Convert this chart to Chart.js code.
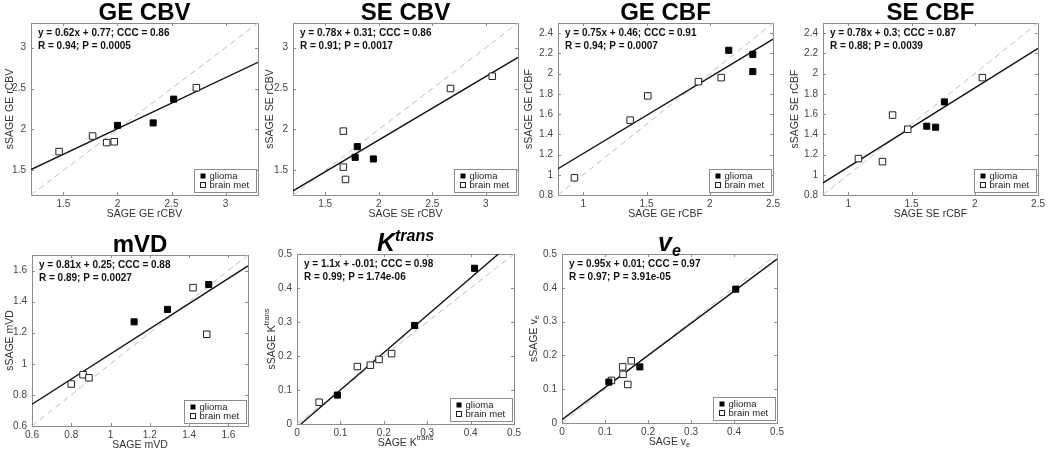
<!DOCTYPE html>
<html>
<head>
<meta charset="utf-8">
<script src="https://cdn.jsdelivr.net/npm/chart.js@4.4.1/dist/chart.umd.min.js"></script>
<style>
  html, body { margin: 0; padding: 0; background: #fff; }
  body { width: 1050px; height: 452px; position: relative; overflow: hidden; }
  canvas { position: absolute; }
</style>
</head>
<body>
<script>
// ---- data: [SAGE, sSAGE] pairs ----
const geCbvGlioma = [[2.0, 2.05], [2.33, 2.08], [2.52, 2.37]];
const geCbvMet = [[1.46, 1.73], [1.77, 1.92], [1.90, 1.84], [1.97, 1.85], [2.73, 2.51]];
const geCbvFit = [[1.2, 1.51], [3.3, 2.82]];
const geCbvStats = ['y = 0.62x + 0.77; CCC = 0.86', 'R = 0.94; P = 0.0005'];

const seCbvGlioma = [[1.78, 1.66], [1.80, 1.79], [1.95, 1.64]];
const seCbvMet = [[1.67, 1.98], [1.67, 1.54], [1.69, 1.39], [2.67, 2.50], [3.06, 2.65]];
const seCbvFit = [[1.2, 1.25], [3.3, 2.88]];
const seCbvStats = ['y = 0.78x + 0.31; CCC = 0.86', 'R = 0.91; P = 0.0017'];

const geCbfGlioma = [[2.15, 2.23], [2.34, 2.19], [2.34, 2.02]];
const geCbfMet = [[0.93, 0.97], [1.37, 1.54], [1.51, 1.78], [1.91, 1.92], [2.09, 1.96]];
const geCbfFit = [[0.8, 1.06], [2.5, 2.34]];
const geCbfStats = ['y = 0.75x + 0.46; CCC = 0.91', 'R = 0.94; P = 0.0007'];

const seCbfGlioma = [[1.62, 1.48], [1.69, 1.47], [1.76, 1.72]];
const seCbfMet = [[1.08, 1.16], [1.27, 1.13], [1.35, 1.59], [1.47, 1.45], [2.06, 1.96]];
const seCbfFit = [[0.8, 0.92], [2.5, 2.25]];
const seCbfStats = ['y = 0.78x + 0.3; CCC = 0.87', 'R = 0.88; P = 0.0039'];

const mvdGlioma = [[1.12, 1.27], [1.29, 1.35], [1.50, 1.51]];
const mvdMet = [[0.80, 0.87], [0.86, 0.93], [0.89, 0.91], [1.42, 1.49], [1.49, 1.19]];
const mvdFit = [[0.6, 0.74], [1.7, 1.63]];
const mvdStats = ['y = 0.81x + 0.25; CCC = 0.88', 'R = 0.89; P = 0.0027'];

const ktransGlioma = [[0.093, 0.085], [0.271, 0.29], [0.409, 0.458]];
const ktransMet = [[0.051, 0.064], [0.139, 0.169], [0.169, 0.173], [0.189, 0.19], [0.218, 0.207]];
const ktransFit = [[0.009, 0.0], [0.464, 0.5]];
const ktransStats = ['y = 1.1x + -0.01; CCC = 0.98', 'R = 0.99; P = 1.74e-06'];

const veGlioma = [[0.109, 0.121], [0.181, 0.166], [0.404, 0.396]];
const veMet = [[0.115, 0.126], [0.141, 0.166], [0.142, 0.144], [0.161, 0.184], [0.153, 0.114]];
const veFit = [[0.0, 0.01], [0.5, 0.485]];
const veStats = ['y = 0.95x + 0.01; CCC = 0.97', 'R = 0.97; P = 3.91e-05'];

// tick labels
const cbvTicks = [1.5, 2, 2.5, 3];
const cbfXTicks = [1, 1.5, 2, 2.5];
const cbfYTicks = [0.8, 1, 1.2, 1.4, 1.6, 1.8, 2, 2.2, 2.4];
const mvdTicks = [0.6, 0.8, 1, 1.2, 1.4, 1.6];
const permTicks = [0, 0.1, 0.2, 0.3, 0.4, 0.5];

const legendLabels = ['glioma', 'brain met'];

const FONT = 'Helvetica, "Liberation Sans", Arial, sans-serif';

// layout: box = [left, top, right, bottom] of each plot area on the page
const panels = [
  { box: [31, 23, 258, 195], range: [1.2, 3.3], xTicks: cbvTicks, yTicks: cbvTicks,
    glioma: geCbvGlioma, met: geCbvMet, fit: geCbvFit, stats: geCbvStats, yOff: 21,
    title: [['GE CBV', 'bold 24px', 0]], xLabel: [['SAGE GE rCBV', '10.5px', 0]], yLabel: [['sSAGE GE rCBV', '10.5px', 0]] },
  { box: [293, 23, 518, 195], range: [1.2, 3.3], xTicks: cbvTicks, yTicks: cbvTicks,
    glioma: seCbvGlioma, met: seCbvMet, fit: seCbvFit, stats: seCbvStats, yOff: 23,
    title: [['SE CBV', 'bold 24px', 0]], xLabel: [['SAGE SE rCBV', '10.5px', 0]], yLabel: [['sSAGE SE rCBV', '10.5px', 0]] },
  { box: [558, 23, 777, 195], range: [0.8, 2.5], xTicks: cbfXTicks, yTicks: cbfYTicks,
    glioma: geCbfGlioma, met: geCbfMet, fit: geCbfFit, stats: geCbfStats, yOff: 29,
    title: [['GE CBF', 'bold 24px', 0]], xLabel: [['SAGE GE rCBF', '10.5px', 0]], yLabel: [['sSAGE GE rCBF', '10.5px', 0]] },
  { box: [823, 23, 1042, 195], range: [0.8, 2.5], xTicks: cbfXTicks, yTicks: cbfYTicks,
    glioma: seCbfGlioma, met: seCbfMet, fit: seCbfFit, stats: seCbfStats, yOff: 28,
    title: [['SE CBF', 'bold 24px', 0]], xLabel: [['SAGE SE rCBF', '10.5px', 0]], yLabel: [['sSAGE SE rCBF', '10.5px', 0]] },
  { box: [32, 255, 248, 426], range: [0.6, 1.7], xTicks: mvdTicks, yTicks: mvdTicks,
    glioma: mvdGlioma, met: mvdMet, fit: mvdFit, stats: mvdStats, yOff: 22,
    title: [['mVD', 'bold 24px', 0]], xLabel: [['SAGE mVD', '10.5px', 0]], yLabel: [['sSAGE mVD', '10.5px', 0]] },
  { box: [297, 254, 518, 424], range: [0, 0.5], xTicks: permTicks, yTicks: permTicks,
    glioma: ktransGlioma, met: ktransMet, fit: ktransFit, stats: ktransStats, yOff: 25,
    title: [['K', 'italic bold 25px', 0], ['trans', 'italic bold 16px', -10]],
    xLabel: [['SAGE K', '10.5px', 0], ['trans', '7.5px', -5]], yLabel: [['sSAGE K', '10.5px', 0], ['trans', '7.5px', -5]] },
  { box: [562, 254, 781, 423], range: [0, 0.5], xTicks: permTicks, yTicks: permTicks,
    glioma: veGlioma, met: veMet, fit: veFit, stats: veStats, yOff: 28,
    title: [['v', 'italic bold 25px', 0], ['e', 'italic bold 16px', 5]],
    xLabel: [['SAGE v', '10.5px', 0], ['e', '7.5px', 3]], yLabel: [['sSAGE v', '10.5px', 0], ['e', '7.5px', 3]] }
];

function toXY(pairs) {
  return pairs.map(p => ({ x: p[0], y: p[1] }));
}

// draw a row of text runs [text, font, dy] centred on (x, y)
function drawRuns(ctx, runs, x, y) {
  let total = 0;
  runs.forEach(r => { ctx.font = r[1] + ' ' + FONT; total += ctx.measureText(r[0]).width; });
  let cx = x - total / 2;
  ctx.textAlign = 'left';
  runs.forEach(r => {
    ctx.font = r[1] + ' ' + FONT;
    ctx.fillText(r[0], cx, y + r[2]);
    cx += ctx.measureText(r[0]).width;
  });
}

const decor = {
  id: 'decor',
  beforeDatasetsDraw(chart, args, p) {
    const { ctx, chartArea: a, scales } = chart;
    ctx.save();
    ctx.strokeStyle = '#8c8c8c';
    ctx.lineWidth = 1;
    ctx.beginPath();
    // inward tick marks, MATLAB style
    p.xTicks.forEach(v => {
      const px = Math.round(scales.x.getPixelForValue(v)) + 0.5;
      ctx.moveTo(px, a.bottom); ctx.lineTo(px, a.bottom - 3);
      ctx.moveTo(px, a.top); ctx.lineTo(px, a.top + 3);
    });
    p.yTicks.forEach(v => {
      const py = Math.round(scales.y.getPixelForValue(v)) + 0.5;
      ctx.moveTo(a.left, py); ctx.lineTo(a.left + 3, py);
      ctx.moveTo(a.right, py); ctx.lineTo(a.right - 3, py);
    });
    ctx.stroke();
    ctx.strokeRect(Math.round(a.left) + 0.5, Math.round(a.top) + 0.5,
      Math.round(a.right - a.left), Math.round(a.bottom - a.top));
    ctx.restore();
  },
  afterDatasetsDraw(chart, args, p) {
    const { ctx, chartArea: a } = chart;
    ctx.save();
    // title
    ctx.fillStyle = '#000';
    ctx.textBaseline = 'alphabetic';
    drawRuns(ctx, p.title, (a.left + a.right) / 2, a.top - 3);
    // axis labels
    ctx.fillStyle = '#333';
    ctx.textBaseline = 'middle';
    drawRuns(ctx, p.xLabel, (a.left + a.right) / 2, a.bottom + 19);
    ctx.save();
    ctx.translate(a.left - p.yOff, (a.top + a.bottom) / 2);
    ctx.rotate(-Math.PI / 2);
    drawRuns(ctx, p.yLabel, 0, 0);
    ctx.restore();
    // regression stats
    ctx.fillStyle = '#111';
    ctx.textBaseline = 'alphabetic';
    ctx.textAlign = 'left';
    ctx.font = 'bold 10px ' + FONT;
    ctx.fillText(p.stats[0], a.left + 7, a.top + 13);
    ctx.fillText(p.stats[1], a.left + 7, a.top + 26);
    // legend box
    const w = 62, h = 23;
    const lx = Math.round(a.right - 2 - w) + 0.5, ly = Math.round(a.bottom - 3 - h) + 0.5;
    ctx.fillStyle = '#fff';
    ctx.fillRect(lx, ly, w, h);
    ctx.strokeStyle = '#8c8c8c';
    ctx.lineWidth = 1;
    ctx.strokeRect(lx, ly, w, h);
    ctx.fillStyle = '#000';
    ctx.fillRect(lx + 6, ly + 4, 5, 5);
    ctx.strokeStyle = '#222';
    ctx.strokeRect(lx + 6, ly + 13, 5, 5);
    ctx.fillStyle = '#222';
    ctx.font = '9.5px ' + FONT;
    ctx.textBaseline = 'middle';
    ctx.fillText(legendLabels[0], lx + 15, ly + 6.5);
    ctx.fillText(legendLabels[1], lx + 15, ly + 16);
    ctx.restore();
  }
};

panels.forEach(p => {
  const [L, T, R, B] = p.box;
  const ml = Math.min(45, L);
  const canvas = document.createElement('canvas');
  const w = R - L + ml + 6, h = B - T + 30 + 28;
  canvas.width = w;
  canvas.height = h;
  canvas.style.left = (L - ml) + 'px';
  canvas.style.top = (T - 30) + 'px';
  canvas.style.width = w + 'px';
  canvas.style.height = h + 'px';
  document.body.appendChild(canvas);

  const tickStyle = { font: { family: FONT, size: 10 }, color: '#444', callback: v => String(v) };

  new Chart(canvas.getContext('2d'), {
    type: 'scatter',
    data: {
      datasets: [
        {
          label: legendLabels[0],
          data: toXY(p.glioma),
          pointStyle: 'rect',
          pointRadius: 4.3,
          backgroundColor: '#000',
          borderColor: '#000',
          borderWidth: 1
        },
        {
          label: legendLabels[1],
          data: toXY(p.met),
          pointStyle: 'rect',
          pointRadius: 4.6,
          backgroundColor: '#fff',
          borderColor: '#222',
          borderWidth: 1
        },
        {
          label: 'fit',
          data: toXY(p.fit),
          showLine: true,
          pointRadius: 0,
          borderColor: '#111',
          borderWidth: 1.4
        },
        {
          label: 'identity',
          data: toXY([[p.range[0], p.range[0]], [p.range[1], p.range[1]]]),
          showLine: true,
          pointRadius: 0,
          borderColor: '#bdbdbd',
          borderWidth: 1,
          borderDash: [6, 4]
        }
      ]
    },
    options: {
      responsive: false,
      animation: false,
      devicePixelRatio: 1,
      layout: { padding: { left: 0, top: 30, right: 6, bottom: 0 } },
      plugins: {
        legend: { display: false },
        tooltip: { enabled: false },
        decor: p
      },
      scales: {
        x: {
          type: 'linear',
          min: p.range[0],
          max: p.range[1],
          grid: { display: false, drawTicks: false },
          border: { display: false },
          ticks: Object.assign({ padding: 3, maxRotation: 0, autoSkip: false }, tickStyle),
          afterBuildTicks: s => { s.ticks = p.xTicks.map(v => ({ value: v })); },
          afterFit: s => { s.height = 28; }
        },
        y: {
          type: 'linear',
          min: p.range[0],
          max: p.range[1],
          grid: { display: false, drawTicks: false },
          border: { display: false },
          ticks: Object.assign({ padding: 5, autoSkip: false }, tickStyle),
          afterBuildTicks: s => { s.ticks = p.yTicks.map(v => ({ value: v })); },
          afterFit: s => { s.width = ml; }
        }
      }
    },
    plugins: [decor]
  });
});
</script>
</body>
</html>
